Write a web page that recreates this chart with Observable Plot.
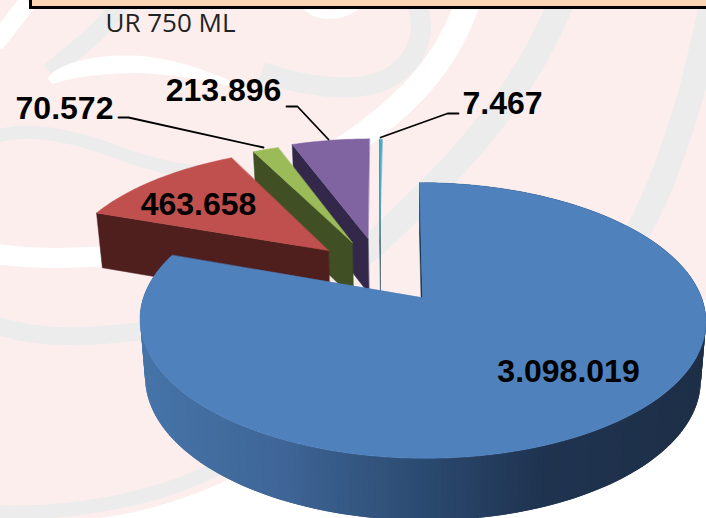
<!DOCTYPE html>
<html><head><meta charset="utf-8">
<script src="https://cdn.jsdelivr.net/npm/d3@7"></script>
<script src="https://cdn.jsdelivr.net/npm/@observablehq/plot@0.6"></script>
<style>
html,body{margin:0;padding:0;width:706px;height:518px;overflow:hidden;background:#fdeeee}
#wm{position:absolute;left:0;top:0}
#box{position:absolute;left:29px;top:-4px;width:700px;height:7px;background:#fcd5b5;border:3px solid #000;box-sizing:content-box}
#chart{position:absolute;left:0;top:0}
#chart svg{display:block}
</style></head><body>
<svg id="wm" width="706" height="518" fill="none">
 <path d="M100,518 C160,510 220,490 300,440 L706,300 L706,518 Z" fill="#fff"/>
 <g stroke="#ececec">
  <path d="M123,0 C105,30 80,45 50,72" stroke-width="18"/>
  <path d="M-5,137 C30,125 80,137 130,157 C170,170 200,175 240,172" stroke-width="13"/>
  <path d="M262,72 C300,85 350,95 385,80 C415,65 430,35 415,0" stroke-width="20"/>
  <path d="M564,-5 C535,70 490,130 430,190 C395,225 380,240 350,265" stroke-width="26"/>
  <path d="M714,-5 C700,60 690,110 660,185 C650,210 635,240 610,280" stroke-width="26"/>
  <path d="M-5,325 C40,340 90,338 150,330" stroke-width="18"/>
  <path d="M-5,512 C70,515 170,500 240,455" stroke-width="14"/>
 </g>
 <path d="M48,78 C60,60 110,52 150,57 C190,62 230,80 262,95 C220,82 180,75 140,73 C100,73 70,78 52,84 Z" fill="#fff"/>
 <g stroke="#fff">
  <path d="M-5,44 L28,2" stroke-width="18"/>
  <path d="M470,-5 C450,60 410,110 310,170" stroke-width="25"/>
  <path d="M302,2 C318,20 345,18 365,-2" stroke-width="9"/>
  <path d="M-5,254 C40,260 70,258 110,256" stroke-width="20"/>
 </g>
</svg>
<div id="box"></div>
<div id="chart"></div>
<script>
// ---- chart data ----
const names = ["a", "b", "c", "d", "e"];
const values = [3098019, 463658, 70572, 213896, 7467];
const valueLabels = ["3.098.019", "463.658", "70.572", "213.896", "7.467"];
const topColors = ["#4f81bd", "#c0504d", "#9bbb59", "#8064a2", "#4bacc6"];
const wallColors = ["#17324f", "#4f1f1d", "#404f24", "#33284a", "#1f4a58"];
const title = "UR 750 ML";

// ---- layout (projection of the tilted pie) ----
const P = {cx: 422, cy: 297, K: 279, k: 134, p: 1 / 6, shear: 3, depth: 58};
const explode = [[0, 0], [-0.354, -0.3725], [-0.265, -0.44], [-0.205, -0.475], [-0.16, -0.47]];

function proj(u, v) {
  const d = 1 - P.p * v;
  return [P.cx + P.shear * v + P.K * u / d, P.cy + P.k * v / d];
}
function lower([x, y]) {
  return [421 + (x - 421) * 0.982, y + P.depth + (y - 320) * 0.03];
}
const total = d3.sum(values);
let acc = 0;
const slices = values.map((v, i) => {
  const a0 = acc / total * 2 * Math.PI; acc += v;
  return {i, a0, a1: acc / total * 2 * Math.PI};
});
const pt = (s, a) => proj(explode[s.i][0] + Math.sin(a), explode[s.i][1] - Math.cos(a));
const apex = s => proj(explode[s.i][0], explode[s.i][1]);
function arc(s) {
  const n = Math.max(2, Math.ceil((s.a1 - s.a0) / 0.02));
  return d3.range(n + 1).map(j => pt(s, s.a0 + (s.a1 - s.a0) * j / n));
}

let pid = 0;
function add(list, points, fill) {
  pid++;
  for (const [x, y] of points) list.push({x, y, id: pid, fill});
}
const backParts = [], wallStrips = [], frontParts = [];
function face(list, s, a) {
  const A = apex(s), B = pt(s, a);
  add(list, [A, B, lower(B), lower(A)], wallColors[s.i]);
}
const wallRamp = d3.scaleLinear()
  .domain([143, 280, 420, 540, 700])
  .range(["#4674a8", "#3e6596", "#2b4a70", "#1f3350", "#1e2f47"])
  .clamp(true);

// back to front
[4, 3, 2, 1].forEach(i => {
  const s = slices[i];
  face(backParts, s, s.a0);
  add(backParts, [apex(s), ...arc(s)], topColors[i]);
});
const blue = slices[0];
face(backParts, blue, blue.a0);
const blueArc = arc(blue);
// wall strips overlap the next one so no seam shows
blueArc.slice(0, -2).forEach((o, j) => {
  const q = blueArc[j + 2], m = blueArc[j + 1];
  add(wallStrips, [o, q, lower(q), lower(o)], wallRamp(m[0]));
});
add(frontParts, [apex(blue), ...blueArc], topColors[0]);

const leaders = [
  {i: 2, elbow: [[118, 117], [128, 117]], end: [263, 147]},
  {i: 3, elbow: [[286, 106], [297, 106]], end: [328, 139]},
  {i: 4, elbow: [[458, 113], [447, 113]], end: [380, 137]}
].flatMap(l => [...l.elbow, l.end].map(([x, y]) => ({x, y, i: l.i})));

const labelPos = [[568, 371], [198, 204], [64, 108], [223, 90], [502, 103]];
const labels = valueLabels.map((t, i) => ({t, x: labelPos[i][0], y: labelPos[i][1]}));

const chart = Plot.plot({
  width: 706, height: 518, margin: 0,
  style: {background: "transparent"},
  x: {domain: [0, 706], range: [0, 706], axis: null},
  y: {domain: [0, 518], range: [0, 518], axis: null},
  color: {type: "identity"},
  marks: [
    Plot.line(backParts, {x: "x", y: "y", z: "id", fill: "fill", stroke: "fill", strokeWidth: 0.5, curve: "linear-closed"}),
    Plot.line(wallStrips, {x: "x", y: "y", z: "id", fill: "fill", stroke: "none", curve: "linear-closed"}),
    Plot.line(frontParts, {x: "x", y: "y", z: "id", fill: "fill", stroke: "fill", strokeWidth: 0.5, curve: "linear-closed"}),
    Plot.line(leaders, {x: "x", y: "y", z: "i", stroke: "#000", strokeWidth: 1.8, curve: "linear"}),
    Plot.text(labels, {x: "x", y: "y", text: "t", fontSize: 32, fontWeight: 700, fontFamily: "Liberation Sans", fill: "#000"}),
    Plot.text([title], {x: [170], y: [23], text: d => d, fontSize: 26, fontFamily: "Open Sans", fill: "#222"})
  ]
});
document.getElementById("chart").appendChild(chart);
</script>
</body></html>
